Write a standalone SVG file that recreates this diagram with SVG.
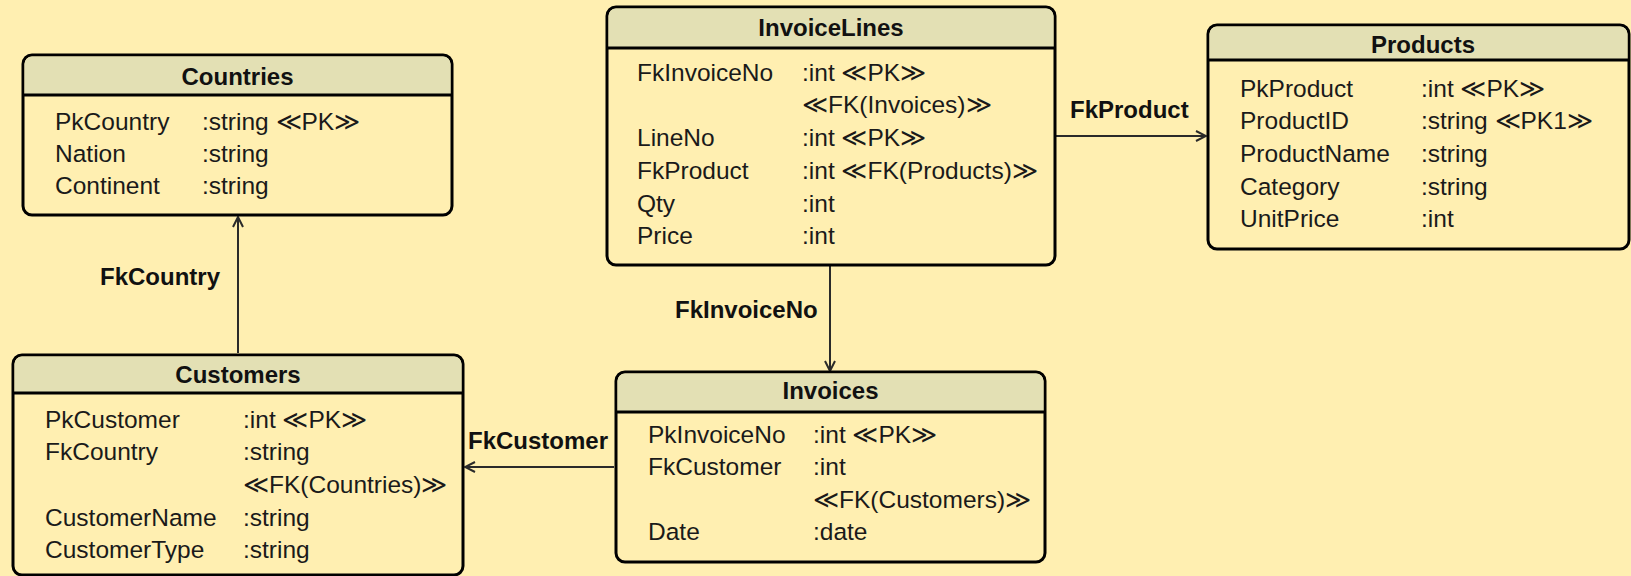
<svg xmlns="http://www.w3.org/2000/svg" width="1631" height="576" viewBox="0 0 1631 576">
<defs>
<style>
.bg{fill:#FFEFB1}
.box{fill:#FFEFB1;stroke:#000;stroke-width:3}
.hdr{fill:#E3E0B4}
.sep{stroke:#000;stroke-width:3}
.t{font-family:"Liberation Sans",Arial,sans-serif;font-size:24.5px;fill:#1a1a1a}
.b{font-family:"Liberation Sans",Arial,sans-serif;font-size:24px;font-weight:bold;fill:#111}
.c{stroke:#2a2a2a;stroke-width:2;fill:none}
</style>
<marker id="ah" viewBox="0 0 12 12" refX="11" refY="6" markerWidth="12" markerHeight="12" markerUnits="userSpaceOnUse" orient="auto">
<path d="M1,1 L11,6 L1,11" fill="none" stroke="#2a2a2a" stroke-width="2"/>
</marker>
</defs>
<rect class="bg" x="0" y="0" width="1631" height="576"/>

<g id="connectors">
<line class="c" x1="238" y1="353" x2="238" y2="217" marker-end="url(#ah)"/>
<text class="b" x="100" y="285">FkCountry</text>
<line class="c" x1="830" y1="266" x2="830" y2="371" marker-end="url(#ah)"/>
<text class="b" x="675" y="318">FkInvoiceNo</text>
<line class="c" x1="614" y1="467" x2="465" y2="467" marker-end="url(#ah)"/>
<text class="b" x="468" y="449">FkCustomer</text>
<line class="c" x1="1056" y1="136" x2="1206" y2="136" marker-end="url(#ah)"/>
<text class="b" x="1070" y="118">FkProduct</text>
</g>

<g id="countries">
<rect class="box" x="23" y="55" width="429" height="160" rx="9"/>
<path class="hdr" d="M24.5,95 V64 a7.5,7.5 0 0 1 7.5,-7.5 H443 a7.5,7.5 0 0 1 7.5,7.5 V95 Z"/>
<line class="sep" x1="23" y1="95" x2="452" y2="95"/>
<text class="b" x="237.5" y="85" text-anchor="middle">Countries</text>
<text class="t" x="55" y="130">PkCountry</text><text class="t" x="202" y="130">:string ≪PK≫</text>
<text class="t" x="55" y="162">Nation</text><text class="t" x="202" y="162">:string</text>
<text class="t" x="55" y="194">Continent</text><text class="t" x="202" y="194">:string</text>
</g>

<g id="invoicelines">
<rect class="box" x="607" y="7" width="448" height="258" rx="9"/>
<path class="hdr" d="M608.5,48 V16 a7.5,7.5 0 0 1 7.5,-7.5 H1046 a7.5,7.5 0 0 1 7.5,7.5 V48 Z"/>
<line class="sep" x1="607" y1="48" x2="1055" y2="48"/>
<text class="b" x="831" y="36" text-anchor="middle">InvoiceLines</text>
<text class="t" x="637" y="81">FkInvoiceNo</text><text class="t" x="802" y="81">:int ≪PK≫</text>
<text class="t" x="802" y="113">≪FK(Invoices)≫</text>
<text class="t" x="637" y="146">LineNo</text><text class="t" x="802" y="146">:int ≪PK≫</text>
<text class="t" x="637" y="179">FkProduct</text><text class="t" x="802" y="179">:int ≪FK(Products)≫</text>
<text class="t" x="637" y="212">Qty</text><text class="t" x="802" y="212">:int</text>
<text class="t" x="637" y="244">Price</text><text class="t" x="802" y="244">:int</text>
</g>

<g id="products">
<rect class="box" x="1208" y="25" width="421" height="224" rx="9"/>
<path class="hdr" d="M1209.5,60 V34 a7.5,7.5 0 0 1 7.5,-7.5 H1620 a7.5,7.5 0 0 1 7.5,7.5 V60 Z"/>
<line class="sep" x1="1208" y1="60" x2="1629" y2="60"/>
<text class="b" x="1423" y="53" text-anchor="middle">Products</text>
<text class="t" x="1240" y="97">PkProduct</text><text class="t" x="1421" y="97">:int ≪PK≫</text>
<text class="t" x="1240" y="129">ProductID</text><text class="t" x="1421" y="129">:string ≪PK1≫</text>
<text class="t" x="1240" y="162">ProductName</text><text class="t" x="1421" y="162">:string</text>
<text class="t" x="1240" y="195">Category</text><text class="t" x="1421" y="195">:string</text>
<text class="t" x="1240" y="227">UnitPrice</text><text class="t" x="1421" y="227">:int</text>
</g>

<g id="customers">
<rect class="box" x="13" y="355" width="450" height="220" rx="9"/>
<path class="hdr" d="M14.5,393 V364 a7.5,7.5 0 0 1 7.5,-7.5 H454 a7.5,7.5 0 0 1 7.5,7.5 V393 Z"/>
<line class="sep" x1="13" y1="393" x2="463" y2="393"/>
<text class="b" x="238" y="383" text-anchor="middle">Customers</text>
<text class="t" x="45" y="428">PkCustomer</text><text class="t" x="243" y="428">:int ≪PK≫</text>
<text class="t" x="45" y="460">FkCountry</text><text class="t" x="243" y="460">:string</text>
<text class="t" x="243" y="493">≪FK(Countries)≫</text>
<text class="t" x="45" y="526">CustomerName</text><text class="t" x="243" y="526">:string</text>
<text class="t" x="45" y="558">CustomerType</text><text class="t" x="243" y="558">:string</text>
</g>

<g id="invoices">
<rect class="box" x="616" y="372" width="429" height="190" rx="9"/>
<path class="hdr" d="M617.5,412 V381 a7.5,7.5 0 0 1 7.5,-7.5 H1036 a7.5,7.5 0 0 1 7.5,7.5 V412 Z"/>
<line class="sep" x1="616" y1="412" x2="1045" y2="412"/>
<text class="b" x="830.5" y="399" text-anchor="middle">Invoices</text>
<text class="t" x="648" y="443">PkInvoiceNo</text><text class="t" x="813" y="443">:int ≪PK≫</text>
<text class="t" x="648" y="475">FkCustomer</text><text class="t" x="813" y="475">:int</text>
<text class="t" x="813" y="508">≪FK(Customers)≫</text>
<text class="t" x="648" y="540">Date</text><text class="t" x="813" y="540">:date</text>
</g>
</svg>
